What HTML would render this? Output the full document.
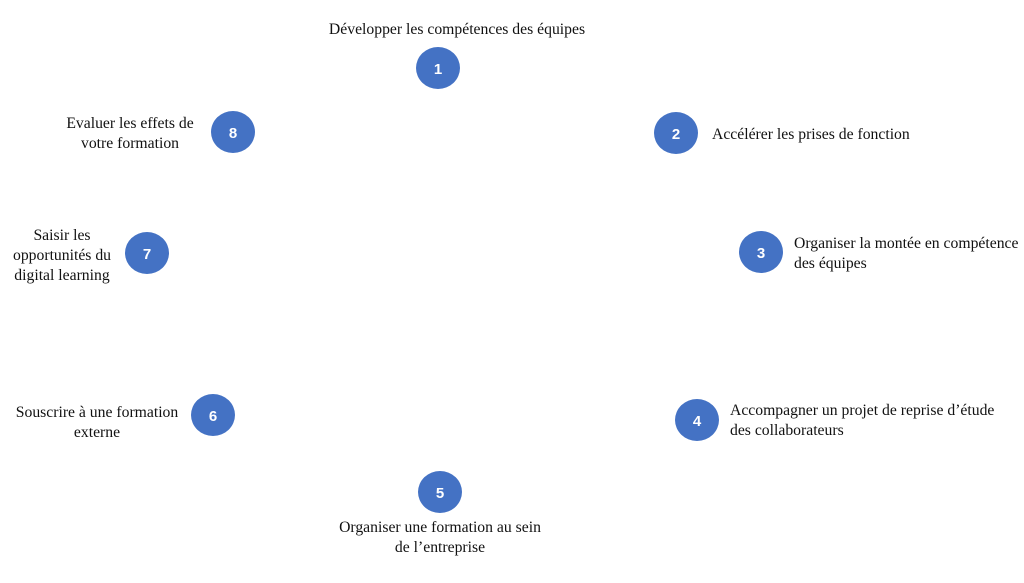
<!DOCTYPE html>
<html><head><meta charset="utf-8"><style>
body{margin:0;width:1024px;height:583px;background:#fff;position:relative;overflow:hidden;font-family:"Liberation Serif",serif;font-size:15.7px;color:#111;}
.c{position:absolute;width:44px;height:42px;border-radius:50%;background:#4472C4;color:#fff;font-family:"Liberation Sans",sans-serif;font-weight:bold;font-size:15px;text-align:center;line-height:46px;}
.t{position:absolute;line-height:20px;white-space:nowrap;}
.m{text-align:center;transform:translateX(-50%);}
</style></head><body>
<div class="c" style="left:416px;top:47px">1</div>
<div class="c" style="left:654px;top:112px">2</div>
<div class="c" style="left:739px;top:231px">3</div>
<div class="c" style="left:675px;top:399px">4</div>
<div class="c" style="left:418px;top:471px">5</div>
<div class="c" style="left:191px;top:394px">6</div>
<div class="c" style="left:125px;top:232px">7</div>
<div class="c" style="left:211px;top:111px">8</div>
<div class="t m" style="left:457px;top:20px">Développer les compétences des équipes</div>
<div class="t" style="left:712px;top:125px">Accélérer les prises de fonction</div>
<div class="t" style="left:794px;top:234px">Organiser la montée en compétence<br>des équipes</div>
<div class="t" style="left:730px;top:401px">Accompagner un projet de reprise d’étude<br>des collaborateurs</div>
<div class="t m" style="left:440px;top:518px">Organiser une formation au sein<br>de l’entreprise</div>
<div class="t m" style="left:97px;top:403px">Souscrire à une formation<br>externe</div>
<div class="t m" style="left:62px;top:226px">Saisir les<br>opportunités du<br>digital learning</div>
<div class="t m" style="left:130px;top:114px">Evaluer les effets de<br>votre formation</div>
</body></html>
